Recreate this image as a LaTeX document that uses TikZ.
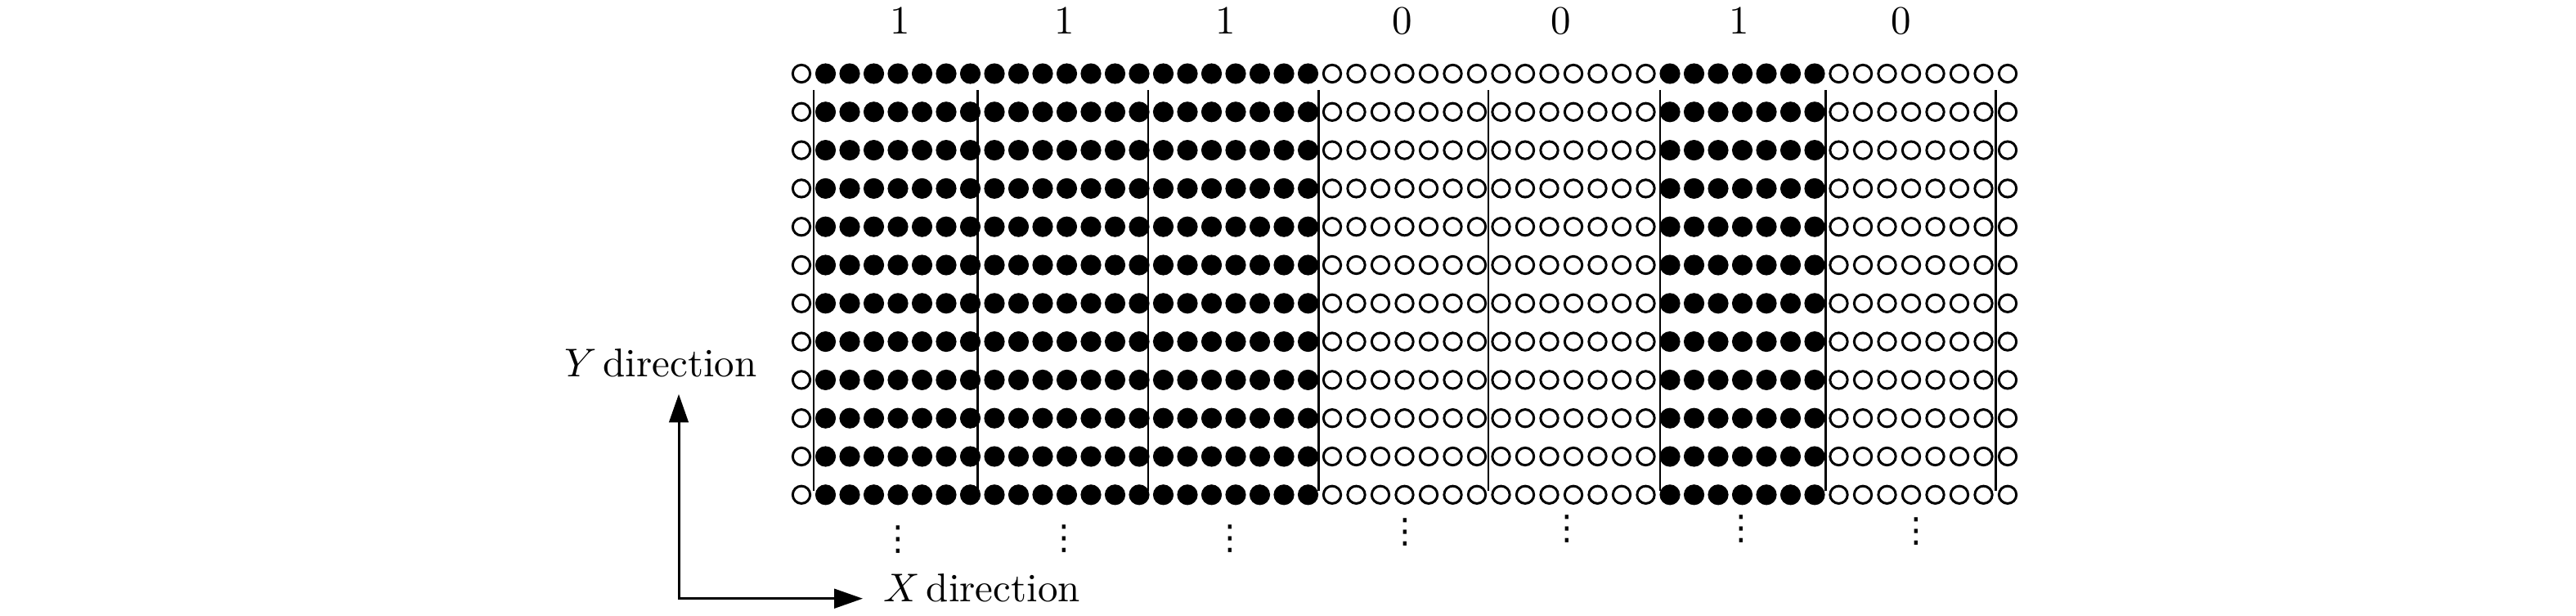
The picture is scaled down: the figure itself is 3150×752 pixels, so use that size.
\documentclass[tikz,border=0pt]{standalone}
\usepackage{fontspec}
\newfontfamily\symfont{DejaVu Sans}
\usetikzlibrary{arrows.meta}
\newcommand{\tightvdots}{{\symfont\fontsize{8.5pt}{8.5pt}\selectfont ⋮}}
\def\bitarray{{1,1,1,0,0,1,0}}
\begin{document}
\begin{tikzpicture}[x=0.20408pt,y=-0.20408pt,
  filledbead/.style={circle,fill=black,inner sep=0pt,minimum size=5.14pt},
  openbead/.style={circle,draw=black,line width=0.61pt,fill=white,inner sep=0pt,minimum size=4.35pt},
  sepline/.style={line width=0.53pt},
  axisarrow/.style={line width=0.61pt,{Triangle[length=7.1pt,width=4.8pt]}-{Triangle[length=7.1pt,width=4.8pt]}},
  bitlabel/.style={anchor=base,inner sep=0pt},
  dirlabel/.style={anchor=base west,inner sep=0pt},
  dotsnode/.style={inner sep=0pt}]
\useasboundingbox (0,0) rectangle (3150,752);
% beads
\foreach \j in {0,...,11}{
  \foreach \i in {0,...,50}{
    \pgfmathtruncatemacro\g{min(6,max(0,floor((\i-1)/7)))}
    \pgfmathtruncatemacro\b{\bitarray[\g]}
    \ifnum\i=0 \def\b{0}\fi
    \ifnum\i=50 \def\b{0}\fi
    \ifnum\b=1
      \node[filledbead] (c-\i-\j) at ({980+29.5*\i},{90+46.8*\j}) {};
    \else
      \node[openbead] (c-\i-\j) at ({980+29.5*\i},{90+46.8*\j}) {};
    \fi
  }
}
% separators
\foreach \x [count=\k] in {995,1195.3,1404,1612.3,1820,2030,2232.3,2440.7}{
  \coordinate (st-\k) at (\x,110);
  \coordinate (sb-\k) at (\x,600);
  \draw[sepline] (st-\k) -- (sb-\k);
}
% bit labels
\node[bitlabel] (b1) at (1100.7,41.5) {1};
\node[bitlabel] (b2) at (1301.7,41.5) {1};
\node[bitlabel] (b3) at (1498.7,41.5) {1};
\node[bitlabel] (b4) at (1714.3,41.5) {0};
\node[bitlabel] (b5) at (1908.3,41.5) {0};
\node[bitlabel] (b6) at (2126.7,41.5) {1};
\node[bitlabel] (b7) at (2325,41.5) {0};
% vertical dots
\node[dotsnode] (v1) at (1098.3,660) {\tightvdots};
\node[dotsnode] (v2) at (1301.3,659) {\tightvdots};
\node[dotsnode] (v3) at (1504.5,659) {\tightvdots};
\node[dotsnode] (v4) at (1718.8,651) {\tightvdots};
\node[dotsnode] (v5) at (1916.3,647) {\tightvdots};
\node[dotsnode] (v6) at (2129.3,647) {\tightvdots};
\node[dotsnode] (v7) at (2343.4,650) {\tightvdots};
% axes
\coordinate (o) at (830,731.7);
\coordinate (ytip) at (830,481.7);
\coordinate (xtip) at (1055,731.7);
\draw[axisarrow] (ytip) -- (o) -- (xtip);
\node[dirlabel] (ylab) at (690,460) {$Y$\hspace{1.5pt}direction};
\node[dirlabel] (xlab) at (1080,735) {$X$\hspace{1.5pt}direction};
\end{tikzpicture}
\end{document}
